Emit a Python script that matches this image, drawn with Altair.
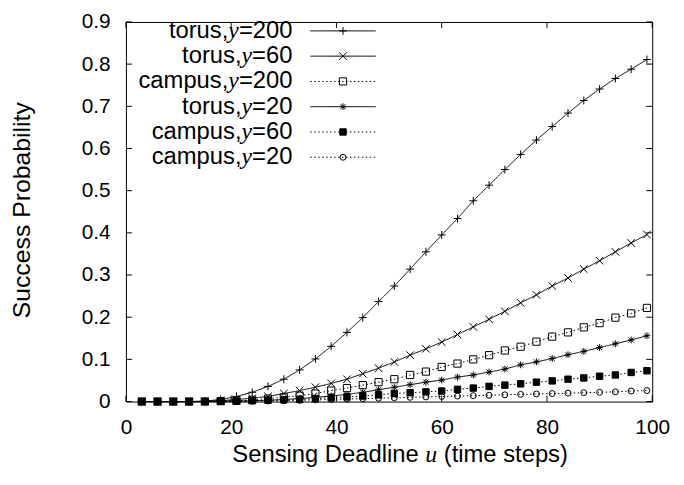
import altair as alt
import pandas as pd

# ---------------- data ----------------
u_values = list(range(3, 100, 3))

series_names = ["torus,y=200", "torus,y=60", "campus,y=200",
                "torus,y=20", "campus,y=60", "campus,y=20"]
legend_prefix = ["torus,", "torus,", "campus,", "torus,", "campus,", "campus,"]
legend_suffix = ["=200", "=60", "=200", "=20", "=60", "=20"]

torus_200 = [0, 0, 0, 0, 0.001, 0.005, 0.012, 0.022, 0.036, 0.053, 0.075,
             0.101, 0.131, 0.164, 0.199, 0.237, 0.274, 0.314, 0.355, 0.395,
             0.434, 0.476, 0.513, 0.550, 0.586, 0.620, 0.652, 0.684, 0.714,
             0.741, 0.766, 0.788, 0.811]
torus_60 = [0, 0, 0, 0, 0.0005, 0.002, 0.005, 0.008, 0.012, 0.019, 0.026,
            0.034, 0.043, 0.053, 0.066, 0.079, 0.094, 0.110, 0.125, 0.141,
            0.159, 0.177, 0.195, 0.214, 0.234, 0.253, 0.274, 0.293, 0.314,
            0.334, 0.355, 0.376, 0.396]
campus_200 = [0, 0, 0, 0, 0, 0.001, 0.002, 0.004, 0.007, 0.010, 0.014,
              0.019, 0.026, 0.032, 0.039, 0.046, 0.053, 0.063, 0.071, 0.082,
              0.090, 0.100, 0.110, 0.121, 0.130, 0.142, 0.154, 0.164, 0.176,
              0.186, 0.199, 0.209, 0.222]
torus_20 = [0, 0, 0, 0, 0, 0.0005, 0.001, 0.002, 0.003, 0.005, 0.007,
            0.010, 0.013, 0.017, 0.022, 0.028, 0.034, 0.040, 0.046, 0.051,
            0.058, 0.063, 0.070, 0.077, 0.087, 0.094, 0.102, 0.111, 0.119,
            0.128, 0.137, 0.146, 0.156]
campus_60 = [0, 0, 0, 0, 0, 0.0005, 0.001, 0.002, 0.003, 0.004, 0.005,
             0.007, 0.009, 0.011, 0.013, 0.016, 0.019, 0.021, 0.023, 0.025,
             0.029, 0.032, 0.036, 0.039, 0.042, 0.046, 0.049, 0.053, 0.056,
             0.060, 0.063, 0.069, 0.073]
campus_20 = [0, 0, 0, 0, 0, 0, 0.0003, 0.001, 0.0015, 0.002, 0.003,
             0.004, 0.005, 0.006, 0.007, 0.008, 0.009, 0.010, 0.011, 0.012,
             0.013, 0.014, 0.015, 0.016, 0.017, 0.018, 0.019, 0.020, 0.021,
             0.022, 0.023, 0.025, 0.026]

x_ticks = [0, 20, 40, 60, 80, 100]
y_ticks = [0, 0.1, 0.2, 0.3, 0.4, 0.5, 0.6, 0.7, 0.8, 0.9]

# ---------------- tables ----------------
all_series = [torus_200, torus_60, campus_200, torus_20, campus_60, campus_20]
rows = []
for name, vals in zip(series_names, all_series):
    for uu, v in zip(u_values, vals):
        rows.append({"series": name, "u": uu, "p": v})
df = pd.DataFrame(rows)

legend_df = pd.DataFrame({
    "series": series_names,
    "prefix": legend_prefix,
    "suffix": legend_suffix,
    "row": list(range(len(series_names))),
})
xt_df = pd.DataFrame({"t": x_ticks})
yt_df = pd.DataFrame({"t": y_ticks})

# ---------------- styles ----------------
FONT = "Liberation Sans"
SERIF = "Liberation Serif"
FS = 21        # tick labels
LFS = 24       # key
TFS = 24       # axis titles
TOP = 12       # padding above the plot (plot top at page y = 8 + TOP)
W, H = 531, 383
TICK = 6

shape_range = [
    "M-1,0L1,0M0,-1L0,1",
    "M-1,-1L1,1M-1,1L1,-1",
    "square",
    "M-1,0L1,0M0,-1L0,1M-0.75,-0.75L0.75,0.75M-0.75,0.75L0.75,-0.75",
    "square",
    "circle",
]
size_range = [64, 36, 42, 56, 49, 36]
fill_range = ["transparent", "transparent", "transparent", "transparent", "black", "transparent"]
dash_range = [[1, 0], [1, 0], [1.5, 2.5], [1, 0], [1.5, 2.5], [1.5, 2.5]]

x_scale = alt.Scale(domain=[0, 100], nice=False, zero=False)
y_scale = alt.Scale(domain=[0, 0.9], nice=False)
shape_enc = alt.Shape("series:N", scale=alt.Scale(domain=series_names, range=shape_range), legend=None)
size_enc = alt.Size("series:N", scale=alt.Scale(domain=series_names, range=size_range), legend=None)
fill_enc = alt.Fill("series:N", scale=alt.Scale(domain=series_names, range=fill_range), legend=None)
dash_enc = alt.StrokeDash("series:N", scale=alt.Scale(domain=series_names, range=dash_range), legend=None)

axis_common = dict(domain=True, domainColor="black", domainWidth=1, ticks=False, tickSize=0,
                   labelFont=FONT, labelFontSize=FS, labelColor="black", labelFlush=False,
                   grid=False, title=None)

base = alt.Chart(df)

lines = base.mark_line(color="black", strokeWidth=1).encode(
    x=alt.X("u:Q", scale=x_scale,
            axis=alt.Axis(values=x_ticks, orient="bottom", labelPadding=15, **axis_common)),
    y=alt.Y("p:Q", scale=y_scale,
            axis=alt.Axis(values=y_ticks, orient="left", labelPadding=16, format=".1~f",
                          **axis_common)),
    strokeDash=dash_enc,
    detail="series:N",
    order="u:Q",
)

mirror = base.mark_line(opacity=0).encode(
    x=alt.X("u:Q", scale=x_scale,
            axis=alt.Axis(values=x_ticks, orient="top", labels=False, **axis_common)),
    y=alt.Y("p:Q", scale=y_scale,
            axis=alt.Axis(values=y_ticks, orient="right", labels=False, **axis_common)),
    detail="series:N",
)

# inward tick marks on all four sides (gnuplot style)
tx = alt.Chart(xt_df)
ty = alt.Chart(yt_df)
tick_b = tx.mark_rule(color="black", strokeWidth=1).encode(
    x=alt.X("t:Q", scale=x_scale, axis=None), y=alt.value(H), y2=alt.value(H - TICK))
tick_t = tx.mark_rule(color="black", strokeWidth=1).encode(
    x=alt.X("t:Q", scale=x_scale, axis=None), y=alt.value(0), y2=alt.value(TICK))
tick_l = ty.mark_rule(color="black", strokeWidth=1).encode(
    y=alt.Y("t:Q", scale=y_scale, axis=None), x=alt.value(0), x2=alt.value(TICK))
tick_r = ty.mark_rule(color="black", strokeWidth=1).encode(
    y=alt.Y("t:Q", scale=y_scale, axis=None), x=alt.value(W), x2=alt.value(W - TICK))

points = base.mark_point(filled=False, stroke="black", strokeWidth=1, opacity=1).encode(
    x=alt.X("u:Q", scale=x_scale, axis=None),
    y=alt.Y("p:Q", scale=y_scale, axis=None),
    shape=shape_enc, size=size_enc, fill=fill_enc,
)

# ---------------- key (gnuplot-style, inside top-left) ----------------
KX = 168
leg = alt.Chart(legend_df).transform_calculate(
    py=f"{29 - 8 - TOP} + datum.row * 25.5",
    xy=f"{KX} - {LFS} * (0.584 + (length(datum.suffix) - 1) * 0.556)",
).transform_calculate(
    xp=f"datum.xy - {LFS} * 0.444",
)

leg_suffix = leg.mark_text(align="right", baseline="middle", font=FONT, fontSize=LFS, color="black").encode(
    x=alt.value(KX), y=alt.Y("py:Q", scale=None), text="suffix:N")
leg_y = leg.mark_text(align="right", baseline="middle", font=SERIF, fontStyle="italic",
                      fontSize=LFS, color="black").encode(
    x=alt.X("xy:Q", scale=None), y=alt.Y("py:Q", scale=None), text=alt.value("y"))
leg_prefix = leg.mark_text(align="right", baseline="middle", font=FONT, fontSize=LFS, color="black").encode(
    x=alt.X("xp:Q", scale=None), y=alt.Y("py:Q", scale=None), text="prefix:N")
leg_rule = leg.mark_rule(color="black", strokeWidth=1).encode(
    x=alt.value(186), x2=alt.value(252), y=alt.Y("py:Q", scale=None), strokeDash=dash_enc)
leg_pts = leg.mark_point(filled=False, stroke="black", strokeWidth=1, opacity=1).encode(
    x=alt.value(219), y=alt.Y("py:Q", scale=None), shape=shape_enc, size=size_enc, fill=fill_enc)

# ---------------- axis titles ----------------
one = alt.Data(values=[{}])
UX = 308
TY = 457 - 8 - TOP
GAP = 6 + 0.278 * TFS
xt1 = alt.Chart(one).mark_text(align="right", baseline="middle", font=FONT, fontSize=TFS, color="black").encode(
    x=alt.value(UX - GAP), y=alt.value(TY), text=alt.value("Sensing Deadline"))
xt2 = alt.Chart(one).mark_text(align="center", baseline="middle", font=SERIF, fontStyle="italic",
                               fontSize=TFS, color="black").encode(
    x=alt.value(UX), y=alt.value(TY), text=alt.value("u"))
xt3 = alt.Chart(one).mark_text(align="left", baseline="middle", font=FONT, fontSize=TFS, color="black").encode(
    x=alt.value(UX + GAP), y=alt.value(TY), text=alt.value("(time steps)"))
yt = alt.Chart(one).mark_text(align="center", baseline="middle", angle=270, font=FONT, fontSize=25,
                              color="black").encode(
    x=alt.value(-105), y=alt.value(210 - 8 - TOP), text=alt.value("Success Probability"))

chart = alt.layer(
    lines, mirror, tick_b, tick_t, tick_l, tick_r, points,
    leg_rule, leg_pts, leg_suffix, leg_y, leg_prefix, xt1, xt2, xt3, yt
).resolve_axis(
    x="independent", y="independent"
).properties(
    width=W, height=H,
    padding={"left": 119, "top": TOP, "right": 24, "bottom": 70},
    autosize=alt.AutoSizeParams(type="none"),
    background="white",
).configure_view(
    stroke="transparent"
)

chart.save("out.html", embed_options={"renderer": "svg", "actions": False})
